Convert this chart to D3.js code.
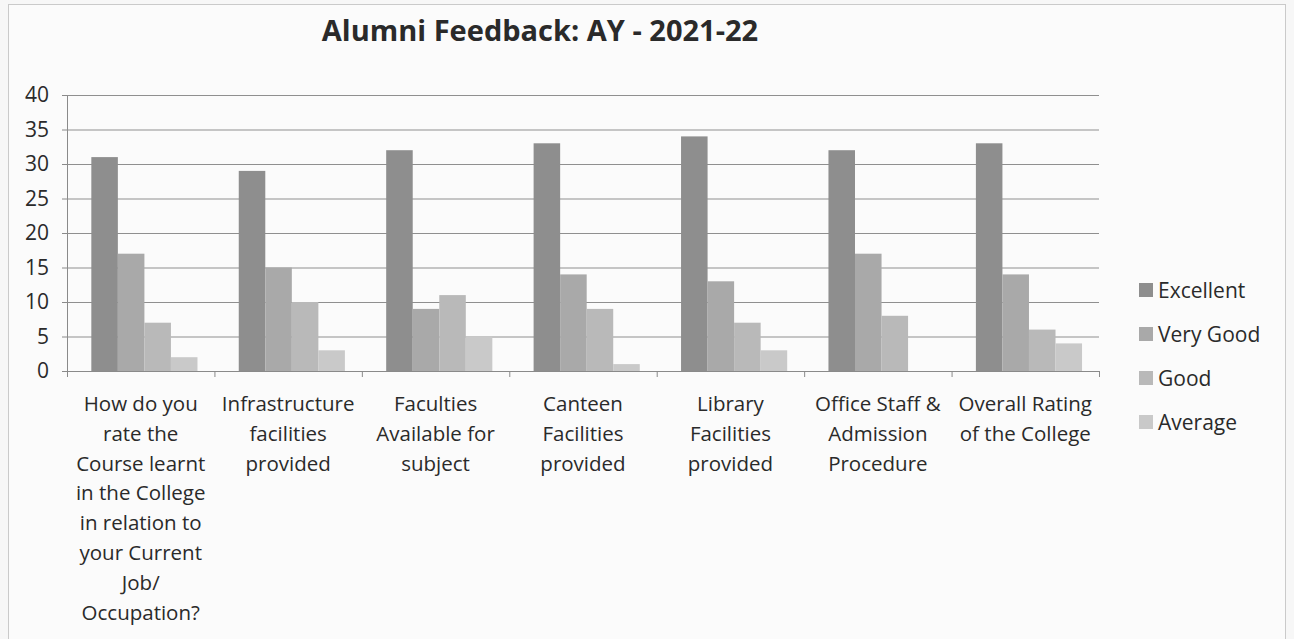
<!DOCTYPE html>
<html>
<head>
<meta charset="utf-8">
<script src="https://cdn.jsdelivr.net/npm/d3@7"></script>
<style>
  html, body { margin: 0; padding: 0; background: #f7f7f7; }
  svg { display: block; font-family: "Open Sans", "Noto Sans", sans-serif; }
</style>
</head>
<body>
<div id="chart"></div>
<script>
// Alumni feedback, AY 2021-22 — grouped bars per question
const categories = [
  ['How do you', 'rate the', 'Course learnt', 'in the College', 'in relation to', 'your Current', 'Job/', 'Occupation?'],
  ['Infrastructure', 'facilities', 'provided'],
  ['Faculties', 'Available for', 'subject'],
  ['Canteen', 'Facilities', 'provided'],
  ['Library', 'Facilities', 'provided'],
  ['Office Staff &', 'Admission', 'Procedure'],
  ['Overall Rating', 'of the College']
];
const seriesNames = ['Excellent', 'Very Good', 'Good', 'Average'];
const excellent = [31, 29, 32, 33, 34, 32, 33];
const veryGood  = [17, 15, 9, 14, 13, 17, 14];
const good      = [7, 10, 11, 9, 7, 8, 6];
const average   = [2, 3, 5, 1, 3, 0, 4];
const yTicks = [0, 5, 10, 15, 20, 25, 30, 35, 40];

const series = [excellent, veryGood, good, average];
const fills = ['#8e8e8e', '#a9a9a9', '#b9b9b9', '#c9c9c9'];

const W = 1294, H = 639;
const plot = { left: 67, right: 1099, top: 95, bottom: 371 };

const svg = d3.select('#chart').append('svg').attr('width', W).attr('height', H);

// buitenrand van de grafiek (gestippeld, zoals op de scan)
svg.append('rect').attr('x', 8.5).attr('y', 4.5).attr('width', 1277).attr('height', 640)
  .attr('fill', '#fbfbfb').attr('stroke', '#9a9a9a').attr('stroke-dasharray', '1,1');

svg.append('text').attr('x', 540).attr('y', 41).attr('text-anchor', 'middle')
  .attr('font-size', 29).attr('font-weight', 700).attr('fill', '#2a2a2a')
  .text('Alumni Feedback: AY - 2021-22');

const idx = d3.range(categories.length);
const x0 = d3.scaleBand().domain(idx).range([plot.left, plot.right]);
const x1 = d3.scaleBand().domain(d3.range(series.length))
  .range([x0.bandwidth() * 0.165, x0.bandwidth() * 0.885]);
const y = d3.scaleLinear().domain([0, 40]).range([plot.bottom, plot.top]);

// raster + y-as
const yAxis = svg.append('g').attr('transform', `translate(${plot.left},0)`)
  .call(d3.axisLeft(y).tickValues(yTicks).tickSize(5).tickPadding(13));
yAxis.select('.domain').attr('stroke', '#8a8a8a');
yAxis.selectAll('.tick line').attr('stroke', '#8a8a8a');
yAxis.selectAll('.tick text').attr('font-size', 21).attr('fill', '#2a2a2a')
  .attr('font-family', '"Open Sans", sans-serif');

svg.append('g').selectAll('line').data(yTicks.filter(t => t > 0)).join('line')
  .attr('x1', plot.left).attr('x2', plot.right)
  .attr('y1', d => y(d) + 0.5).attr('y2', d => y(d) + 0.5)
  .attr('stroke', '#8f8f8f').attr('stroke-width', 1);

// staven
const groups = svg.append('g').selectAll('g').data(idx).join('g')
  .attr('transform', i => `translate(${x0(i)},0)`);
groups.selectAll('rect').data(i => series.map((s, k) => ({ k, v: s[i] }))).join('rect')
  .attr('x', d => x1(d.k)).attr('width', x1.bandwidth())
  .attr('y', d => y(d.v)).attr('height', d => y(0) - y(d.v))
  .attr('fill', d => fills[d.k]);

// x-as
const xAxis = svg.append('g').attr('transform', `translate(0,${plot.bottom})`);
xAxis.append('line').attr('x1', plot.left - 5).attr('x2', plot.right)
  .attr('y1', 0.5).attr('y2', 0.5).attr('stroke', '#8a8a8a');
xAxis.selectAll('.xt').data(d3.range(categories.length + 1)).join('line')
  .attr('class', 'xt')
  .attr('x1', i => plot.left + i * x0.step() + 0.5).attr('x2', i => plot.left + i * x0.step() + 0.5)
  .attr('y1', 0).attr('y2', 6).attr('stroke', '#8a8a8a');

const labels = svg.append('g').selectAll('text').data(idx).join('text')
  .attr('x', i => x0(i) + x0.bandwidth() / 2).attr('y', 411)
  .attr('text-anchor', 'middle').attr('font-size', 20.5).attr('fill', '#2a2a2a');
labels.selectAll('tspan').data(i => categories[i]).join('tspan')
  .attr('x', function () { return this.parentNode.getAttribute('x'); })
  .attr('dy', (d, j) => j === 0 ? 0 : 29.8)
  .text(d => d);

// legenda
const legend = svg.append('g').selectAll('g').data(seriesNames).join('g')
  .attr('transform', (d, k) => `translate(1139,${290 + k * 44})`);
legend.append('rect').attr('x', 0).attr('y', -7).attr('width', 14).attr('height', 14)
  .attr('fill', (d, k) => fills[k]);
legend.append('text').attr('x', 19).attr('y', 7.5).attr('font-size', 21)
  .attr('fill', '#2a2a2a').text(d => d);
</script>
</body>
</html>
